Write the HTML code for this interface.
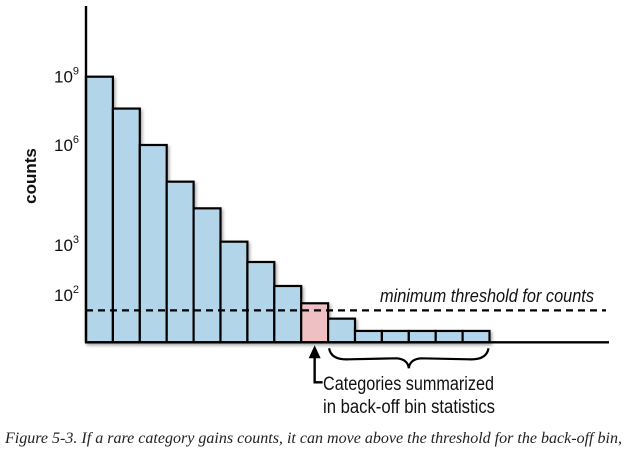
<!DOCTYPE html>
<html><head><meta charset="utf-8"><style>
body{margin:0;background:#fff;width:627px;height:452px;overflow:hidden}
svg{display:block}
</style></head><body>
<svg id="chart" width="627" height="452" xmlns="http://www.w3.org/2000/svg">
<defs><filter id="sh" x="-20%" y="-20%" width="140%" height="140%"><feGaussianBlur in="SourceAlpha" stdDeviation="1.5"/><feOffset dx="1.5" dy="2"/><feComponentTransfer><feFuncA type="linear" slope="0.35"/></feComponentTransfer><feMerge><feMergeNode/><feMergeNode in="SourceGraphic"/></feMerge></filter></defs>
<g id="bars" filter="url(#sh)"></g>
<g id="axes"></g>
</svg>
<script>
const categories = ["c1","c2","c3","c4","c5","c6","c7","c8","c9","c10","c11","c12","c13","c14","c15"];
const logCounts = [9, 7.6, 6, 4.9, 4.1, 3.1, 2.66, 2.18, 1.65, 1.0, 0.48, 0.48, 0.48, 0.48, 0.48];
const highlightIndex = 8;
const tickValues = [9, 6, 3, 2];
const tickLabels = ["9", "6", "3", "2"];
const thresholdLog = 1.35;

const NS = "http://www.w3.org/2000/svg";
const X0 = 86, BW = 26.9, BASE = 342.3;
const anchors = [[0,342.3],[2,295],[3,245],[6,145],[9,76.7],[11,6]];
function yScale(v){
  for(let i=0;i<anchors.length-1;i++){
    const a=anchors[i], b=anchors[i+1];
    if(v<=b[0]||i===anchors.length-2){return a[1]+(v-a[0])/(b[0]-a[0])*(b[1]-a[1]);}
  }
}
function xScale(i){return X0+i*BW;}
function mk(tag,attrs,parent){const e=document.createElementNS(NS,tag);for(const k in attrs)e.setAttribute(k,attrs[k]);parent.appendChild(e);return e;}
const svg=document.getElementById("chart"), gb=document.getElementById("bars"), ga=document.getElementById("axes");

logCounts.forEach((v,i)=>{
  const y=yScale(v);
  const r=mk("rect",{x:xScale(i),y:y,width:BW,height:BASE-y,fill:i===highlightIndex?"#eec0c4":"#b3d5ea",stroke:"#000","stroke-width":2.2},gb);
  
  
});

const ty=yScale(thresholdLog);
const dl=mk("line",{x1:X0,y1:ty,x2:606,y2:ty,stroke:"#000","stroke-width":2.2,"stroke-dasharray":"7,5"},ga);



const ya=mk("line",{x1:X0,y1:6,x2:X0,y2:BASE,stroke:"#000","stroke-width":2.4},ga);


const xa=mk("line",{x1:X0-1,y1:BASE,x2:609,y2:BASE,stroke:"#000","stroke-width":2.4},ga);



tickValues.forEach((v,i)=>{
  const t=mk("text",{x:54,y:yScale(v)+6,"font-family":"Liberation Sans, sans-serif","font-size":17,fill:"#111"},ga);
  
  
  t.textContent="10";
  const s=mk("tspan",{"font-size":11,dy:-8},t);
  s.textContent=tickLabels[i];
});

const yt=mk("text",{x:0,y:0,transform:"translate(36,176) rotate(-90)","text-anchor":"middle","font-family":"Liberation Sans, sans-serif","font-size":17,"font-weight":"bold",fill:"#111"},ga);


yt.textContent="counts";

const tt=mk("text",{x:380,y:302,"font-family":"Liberation Sans, sans-serif","font-size":18,"font-style":"italic",fill:"#111",textLength:214,lengthAdjust:"spacingAndGlyphs"},ga);


tt.textContent="minimum threshold for counts";

const ax=xScale(highlightIndex)+BW/2;
const arr=mk("path",{d:`M${ax} ${BASE+14} L${ax} ${BASE+40} L${ax+8} ${BASE+40}`,fill:"none",stroke:"#000","stroke-width":2.4},ga);


const ah=mk("path",{d:`M${ax} ${BASE+3} L${ax-6} ${BASE+16} L${ax+6} ${BASE+16} Z`,fill:"#000"},ga);



const bx1=xScale(highlightIndex+1)+1, bx2=xScale(logCounts.length)-1, bm=(bx1+bx2)/2;
const br=mk("path",{d:`M${bx1} ${BASE+6} Q${bx1+2} ${BASE+18} ${bx1+20} ${BASE+17} L${bm-12} ${BASE+16} Q${bm-1} ${BASE+17} ${bm} ${BASE+26} Q${bm+1} ${BASE+17} ${bm+12} ${BASE+16} L${bx2-20} ${BASE+17} Q${bx2-2} ${BASE+18} ${bx2} ${BASE+6}`,fill:"none",stroke:"#000","stroke-width":2.2},ga);



const a1=mk("text",{x:323,y:390,"font-family":"Liberation Sans, sans-serif","font-size":19,fill:"#111",textLength:171,lengthAdjust:"spacingAndGlyphs"},ga);


a1.textContent="Categories summarized";
const a2=mk("text",{x:323,y:413,"font-family":"Liberation Sans, sans-serif","font-size":19,fill:"#111",textLength:172,lengthAdjust:"spacingAndGlyphs"},ga);


a2.textContent="in back-off bin statistics";

const cap=mk("text",{x:5,y:443,"font-family":"Liberation Serif, serif","font-size":16,"font-style":"italic",fill:"#222",textLength:617,lengthAdjust:"spacingAndGlyphs"},ga);


cap.textContent="Figure 5-3. If a rare category gains counts, it can move above the threshold for the back-off bin,";
</script>
</body></html>
